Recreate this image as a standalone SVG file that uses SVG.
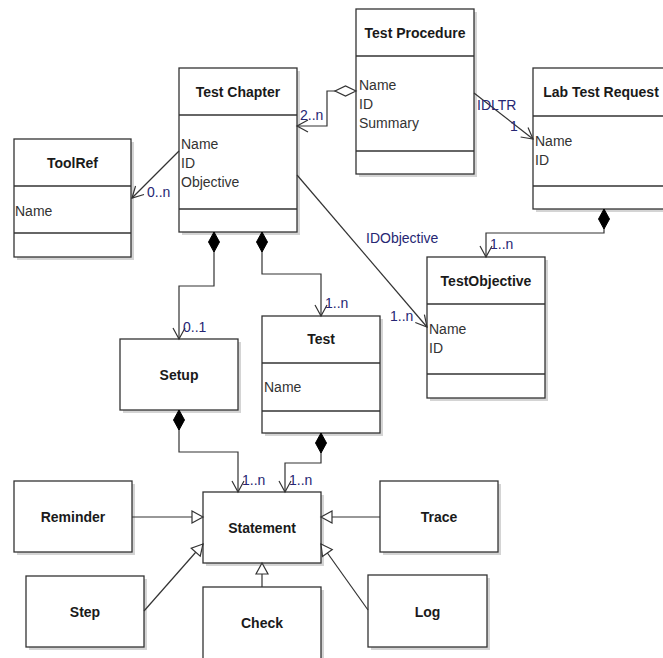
<svg xmlns="http://www.w3.org/2000/svg" width="663" height="658" viewBox="0 0 663 658">
  <style>
    .box { fill: #ffffff; stroke: #333333; stroke-width: 1.3; }
    .shadow { fill: #d4d4d4; }
    .div { stroke: #333333; stroke-width: 1.3; }
    .title { font-family: "Liberation Sans", Arial, sans-serif; font-size: 14px; font-weight: bold; fill: #1a1a1a; text-anchor: middle; }
    .attr { font-family: "Liberation Sans", Arial, sans-serif; font-size: 14px; fill: #333333; }
    .lbl { font-family: "Liberation Sans", Arial, sans-serif; font-size: 14px; fill: #262673; }
    .edge { fill: none; stroke: #333333; stroke-width: 1.2; }
  </style>
  <defs>
    <marker id="open-arrow" markerUnits="userSpaceOnUse" markerWidth="24" markerHeight="24" refX="0" refY="0" orient="auto" overflow="visible">
      <path d="M -11 -6 L 0 0 L -11 6" fill="none" stroke="#333333" stroke-width="1.2"/>
    </marker>
    <marker id="filled-diamond" markerUnits="userSpaceOnUse" markerWidth="30" markerHeight="30" refX="0" refY="0" orient="auto" overflow="visible">
      <path d="M 0 0 L 10 -5.5 L 20 0 L 10 5.5 Z" fill="#000000" stroke="#000000" stroke-width="1"/>
    </marker>
    <marker id="hollow-diamond" markerUnits="userSpaceOnUse" markerWidth="30" markerHeight="30" refX="0" refY="0" orient="auto" overflow="visible">
      <path d="M 0 0 L 10.5 -5 L 21 0 L 10.5 5 Z" fill="#ffffff" stroke="#333333" stroke-width="1.2"/>
    </marker>
    <marker id="hollow-triangle" markerUnits="userSpaceOnUse" markerWidth="30" markerHeight="30" refX="0" refY="0" orient="auto" overflow="visible">
      <path d="M 0 0 L -11 -6 L -11 6 Z" fill="#ffffff" stroke="#333333" stroke-width="1.2"/>
    </marker>
  </defs>

  <rect width="663" height="658" fill="#ffffff"/>

  <!-- Classes -->
  <g id="test-procedure">
    <rect class="shadow" x="359" y="12" width="118" height="165"/>
    <rect class="box" x="356" y="9" width="118" height="165"/>
    <line class="div" x1="356" y1="56" x2="474" y2="56"/>
    <line class="div" x1="356" y1="151" x2="474" y2="151"/>
    <text class="title" x="415" y="38">Test Procedure</text>
    <text class="attr" x="359" y="90">Name</text>
    <text class="attr" x="359" y="109">ID</text>
    <text class="attr" x="359" y="128">Summary</text>
  </g>

  <g id="test-chapter">
    <rect class="shadow" x="182" y="71" width="118" height="164"/>
    <rect class="box" x="179" y="68" width="118" height="164"/>
    <line class="div" x1="179" y1="115" x2="297" y2="115"/>
    <line class="div" x1="179" y1="209" x2="297" y2="209"/>
    <text class="title" x="238" y="97">Test Chapter</text>
    <text class="attr" x="181" y="149">Name</text>
    <text class="attr" x="181" y="168">ID</text>
    <text class="attr" x="181" y="187">Objective</text>
  </g>

  <g id="lab-test-request">
    <rect class="shadow" x="536" y="71" width="138" height="141"/>
    <rect class="box" x="533" y="68" width="138" height="141"/>
    <line class="div" x1="533" y1="116" x2="671" y2="116"/>
    <line class="div" x1="533" y1="186" x2="671" y2="186"/>
    <text class="title" x="601" y="97">Lab Test Request</text>
    <text class="attr" x="535" y="146">Name</text>
    <text class="attr" x="535" y="165">ID</text>
  </g>

  <g id="tool-ref">
    <rect class="shadow" x="17" y="142" width="117" height="118"/>
    <rect class="box" x="14" y="139" width="117" height="118"/>
    <line class="div" x1="14" y1="186" x2="131" y2="186"/>
    <line class="div" x1="14" y1="233" x2="131" y2="233"/>
    <text class="title" x="72.5" y="168">ToolRef</text>
    <text class="attr" x="15" y="216">Name</text>
  </g>

  <g id="test-objective">
    <rect class="shadow" x="430" y="260" width="118" height="141"/>
    <rect class="box" x="427" y="257" width="118" height="141"/>
    <line class="div" x1="427" y1="304" x2="545" y2="304"/>
    <line class="div" x1="427" y1="374" x2="545" y2="374"/>
    <text class="title" x="486" y="286">TestObjective</text>
    <text class="attr" x="429" y="334">Name</text>
    <text class="attr" x="429" y="353">ID</text>
  </g>

  <g id="setup">
    <rect class="shadow" x="123" y="342" width="118" height="71"/>
    <rect class="box" x="120" y="339" width="118" height="71"/>
    <text class="title" x="179" y="380">Setup</text>
  </g>

  <g id="test">
    <rect class="shadow" x="265" y="319" width="118" height="117"/>
    <rect class="box" x="262" y="316" width="118" height="117"/>
    <line class="div" x1="262" y1="363" x2="380" y2="363"/>
    <line class="div" x1="262" y1="411" x2="380" y2="411"/>
    <text class="title" x="321" y="344">Test</text>
    <text class="attr" x="264" y="392">Name</text>
  </g>

  <g id="statement">
    <rect class="shadow" x="206" y="495" width="118" height="71"/>
    <rect class="box" x="203" y="492" width="118" height="71"/>
    <text class="title" x="262" y="533">Statement</text>
  </g>

  <g id="reminder">
    <rect class="shadow" x="17" y="484" width="118" height="71"/>
    <rect class="box" x="14" y="481" width="118" height="71"/>
    <text class="title" x="73" y="522">Reminder</text>
  </g>

  <g id="trace">
    <rect class="shadow" x="383" y="484" width="118" height="71"/>
    <rect class="box" x="380" y="481" width="118" height="71"/>
    <text class="title" x="439" y="522">Trace</text>
  </g>

  <g id="step">
    <rect class="shadow" x="29" y="579" width="118" height="71"/>
    <rect class="box" x="26" y="576" width="118" height="71"/>
    <text class="title" x="85" y="617">Step</text>
  </g>

  <g id="log">
    <rect class="shadow" x="371" y="578" width="119" height="72"/>
    <rect class="box" x="368" y="575" width="119" height="72"/>
    <text class="title" x="427.5" y="617">Log</text>
  </g>

  <g id="check">
    <rect class="shadow" x="206" y="590" width="118" height="80"/>
    <rect class="box" x="203" y="587" width="118" height="80"/>
    <text class="title" x="262" y="628">Check</text>
  </g>

  <!-- Relationships -->
  <g id="connectors">
    <path class="edge" d="M 356 91 L 327 91 L 327 126 L 297 126" marker-start="url(#hollow-diamond)" marker-end="url(#open-arrow)"/>
    <path class="edge" d="M 474 93 L 533 139" marker-end="url(#open-arrow)"/>
    <path class="edge" d="M 604 209 L 604 233 L 486 233 L 486 257" marker-start="url(#filled-diamond)" marker-end="url(#open-arrow)"/>
    <path class="edge" d="M 297 175 L 427 327" marker-end="url(#open-arrow)"/>
    <path class="edge" d="M 179 151 L 132 198" marker-end="url(#open-arrow)"/>
    <path class="edge" d="M 214 232 L 214 286 L 179 286 L 179 339" marker-start="url(#filled-diamond)" marker-end="url(#open-arrow)"/>
    <path class="edge" d="M 262 232 L 262 274 L 321 274 L 321 316" marker-start="url(#filled-diamond)" marker-end="url(#open-arrow)"/>
    <path class="edge" d="M 179 410 L 179 452 L 238 452 L 238 492" marker-start="url(#filled-diamond)" marker-end="url(#open-arrow)"/>
    <path class="edge" d="M 321 433 L 321 463 L 285 463 L 285 492" marker-start="url(#filled-diamond)" marker-end="url(#open-arrow)"/>
    <path class="edge" d="M 132 517 L 203 517" marker-end="url(#hollow-triangle)"/>
    <path class="edge" d="M 144 611 L 203 544" marker-end="url(#hollow-triangle)"/>
    <path class="edge" d="M 262 587 L 262 563" marker-end="url(#hollow-triangle)"/>
    <path class="edge" d="M 380 517 L 321 517" marker-end="url(#hollow-triangle)"/>
    <path class="edge" d="M 368 610 L 321 544" marker-end="url(#hollow-triangle)"/>

    <text class="lbl" x="300" y="120">2..n</text>
    <text class="lbl" x="477" y="110">IDLTR</text>
    <text class="lbl" x="510" y="131">1</text>
    <text class="lbl" x="490" y="249">1..n</text>
    <text class="lbl" x="366" y="243">IDObjective</text>
    <text class="lbl" x="390" y="321">1..n</text>
    <text class="lbl" x="147" y="197">0..n</text>
    <text class="lbl" x="183" y="332">0..1</text>
    <text class="lbl" x="325" y="308">1..n</text>
    <text class="lbl" x="242" y="485">1..n</text>
    <text class="lbl" x="289" y="485">1..n</text>
  </g>
</svg>
